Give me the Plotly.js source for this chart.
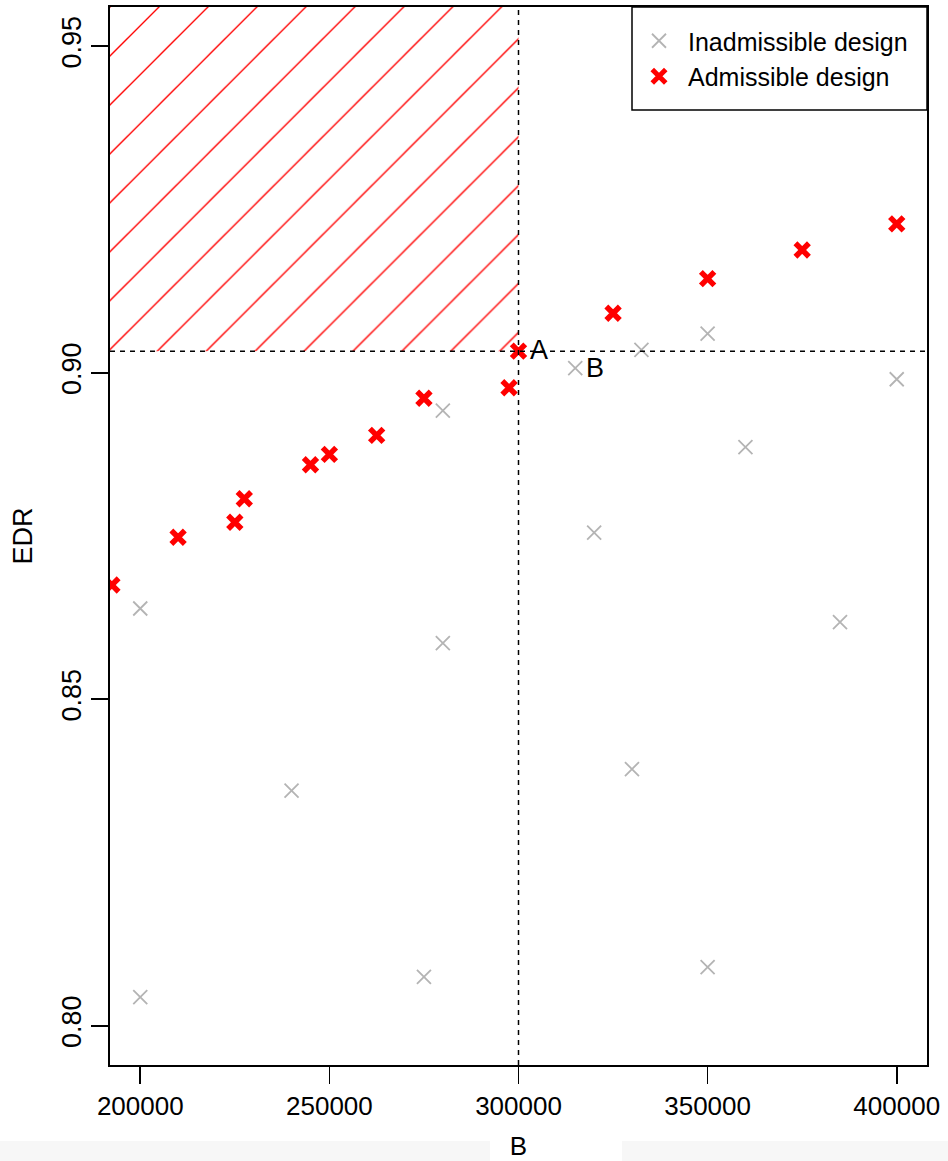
<!DOCTYPE html>
<html>
<head>
<meta charset="utf-8">
<script src="https://cdn.plot.ly/plotly-3.0.1.min.js"></script>
<style>
  html, body { margin: 0; padding: 0; background: #ffffff; }
  #chart { width: 948px; height: 1161px; }
</style>
</head>
<body>
<div id="chart"></div>
<script>
// ---- data ----
var admissibleB   = [192500, 210000, 225000, 227500, 245000, 250000, 262500, 275000, 297500, 300000, 325000, 350000, 375000, 400000];
var admissibleEDR = [0.8675, 0.8748, 0.8771, 0.8807, 0.8859, 0.8875, 0.8904, 0.8961, 0.8977, 0.9033, 0.9091, 0.9144, 0.9188, 0.9228];

var inadmissibleB   = [200000, 200000, 240000, 275000, 280000, 280000, 315000, 320000, 330000, 332500, 350000, 350000, 360000, 385000, 400000];
var inadmissibleEDR = [0.8639, 0.8044, 0.8360, 0.8075, 0.8586, 0.8942, 0.9007, 0.8755, 0.8393, 0.9035, 0.9060, 0.8090, 0.8886, 0.8618, 0.8990];

var xTickVals = [200000, 250000, 300000, 350000, 400000];
var xTickText = ['200000', '250000', '300000', '350000', '400000'];
var yTickVals = [0.80, 0.85, 0.90, 0.95];
var yTickText = ['0.80', '0.85', '0.90', '0.95'];

var labelA = 'A';
var labelB = 'B';
var pointA = { B: admissibleB[9], EDR: admissibleEDR[9] };     // design A
var pointB = { B: inadmissibleB[6], EDR: inadmissibleEDR[6] }; // design B

var xRange = [192000, 408000];
var yRange = [0.794, 0.956];

// ---- layout geometry ----
var W = 948, H = 1161;
var M = { l: 110, r: 21, t: 7, b: 96 };
var PW = W - M.l - M.r, PH = H - M.t - M.b;
function pxX(px) { return (px - M.l) / PW; }
function pxY(py) { return 1 - (py - M.t) / PH; }

var FONT = 'Liberation Sans, Arial, Helvetica, sans-serif';
var RED = '#ff0000';
var GREY = '#b4b4b4';

var traces = [
  {
    // hatched "better than A" region
    x: [xRange[0], pointA.B, pointA.B, xRange[0], xRange[0]],
    y: [pointA.EDR, pointA.EDR, yRange[1], yRange[1], pointA.EDR],
    mode: 'lines',
    fill: 'toself',
    line: { width: 0, color: 'rgba(0,0,0,0)' },
    fillcolor: 'rgba(0,0,0,0)',
    fillpattern: { shape: '/', size: 34.6, solidity: 0.04, fgcolor: RED, bgcolor: 'rgba(0,0,0,0)', fgopacity: 1 },
    showlegend: false,
    hoverinfo: 'skip'
  },
  {
    x: inadmissibleB,
    y: inadmissibleEDR,
    mode: 'markers',
    name: 'Inadmissible design',
    marker: { symbol: 'x-thin', size: 14, color: GREY, line: { color: GREY, width: 1.8 } }
  },
  {
    x: admissibleB,
    y: admissibleEDR,
    mode: 'markers',
    name: 'Admissible design',
    marker: { symbol: 'x-thin', size: 13.5, color: RED, line: { color: RED, width: 5.5 } }
  }
];

var layout = {
  width: W,
  height: H,
  margin: M,
  paper_bgcolor: '#ffffff',
  plot_bgcolor: '#ffffff',
  font: { family: FONT, size: 26, color: '#000000' },
  showlegend: true,
  legend: {
    x: pxX(630), xanchor: 'left',
    y: pxY(18), yanchor: 'top',
    bgcolor: 'rgba(0,0,0,0)',
    borderwidth: 0,
    itemwidth: 48,
    font: { family: FONT, size: 25, color: '#000000' }
  },
  xaxis: {
    range: xRange,
    tickmode: 'array',
    tickvals: xTickVals,
    ticktext: xTickText,
    ticks: 'outside',
    ticklen: 17,
    tickwidth: 1.6,
    tickcolor: '#000000',
    showline: true,
    linecolor: '#000000',
    linewidth: 1.6,
    mirror: true,
    showgrid: false,
    zeroline: false,
    tickfont: { family: FONT, size: 26, color: '#000000' },
    title: { text: 'B', font: { family: FONT, size: 26, color: '#000000' }, standoff: 20 }
  },
  yaxis: {
    range: yRange,
    tickmode: 'array',
    tickvals: yTickVals,
    ticktext: yTickText,
    tickangle: -90,
    ticks: 'outside',
    ticklen: 17,
    tickwidth: 1.6,
    tickcolor: '#000000',
    showline: true,
    linecolor: '#000000',
    linewidth: 1.6,
    mirror: true,
    showgrid: false,
    zeroline: false,
    tickfont: { family: FONT, size: 27, color: '#000000' },
    title: { text: 'EDR', font: { family: FONT, size: 27, color: '#000000' }, standoff: 16 }
  },
  shapes: [
    // reference lines through design A
    { type: 'line', xref: 'x', yref: 'paper', x0: pointA.B, x1: pointA.B, y0: 0, y1: 1,
      line: { color: '#000000', width: 1.5, dash: '5px,5px' }, layer: 'above' },
    { type: 'line', xref: 'paper', yref: 'y', x0: 0, x1: 1, y0: pointA.EDR, y1: pointA.EDR,
      line: { color: '#000000', width: 1.5, dash: '5px,5px' }, layer: 'above' },
    // legend box
    { type: 'rect', xref: 'paper', yref: 'paper', x0: pxX(632), x1: pxX(927), y0: pxY(110), y1: pxY(7),
      line: { color: '#000000', width: 1.5 }, fillcolor: '#ffffff', layer: 'above' },
    // faint band at the bottom of the reference image
    { type: 'rect', xref: 'paper', yref: 'paper', x0: pxX(0), x1: pxX(490), y0: pxY(1161), y1: pxY(1141),
      line: { width: 0 }, fillcolor: '#f7f7f7', layer: 'below' },
    { type: 'rect', xref: 'paper', yref: 'paper', x0: pxX(622), x1: pxX(948), y0: pxY(1161), y1: pxY(1141),
      line: { width: 0 }, fillcolor: '#f7f7f7', layer: 'below' }
  ],
  annotations: [
    { x: pointA.B, y: pointA.EDR, xref: 'x', yref: 'y', text: labelA, showarrow: false,
      xanchor: 'left', yanchor: 'middle', xshift: 9, yshift: 1,
      font: { family: FONT, size: 27, color: '#000000' } },
    { x: pointB.B, y: pointB.EDR, xref: 'x', yref: 'y', text: labelB, showarrow: false,
      xanchor: 'left', yanchor: 'middle', xshift: 9, yshift: 0,
      font: { family: FONT, size: 27, color: '#000000' } }
  ]
};

Plotly.newPlot('chart', traces, layout, { staticPlot: true, displayModeBar: false });
</script>
</body>
</html>
